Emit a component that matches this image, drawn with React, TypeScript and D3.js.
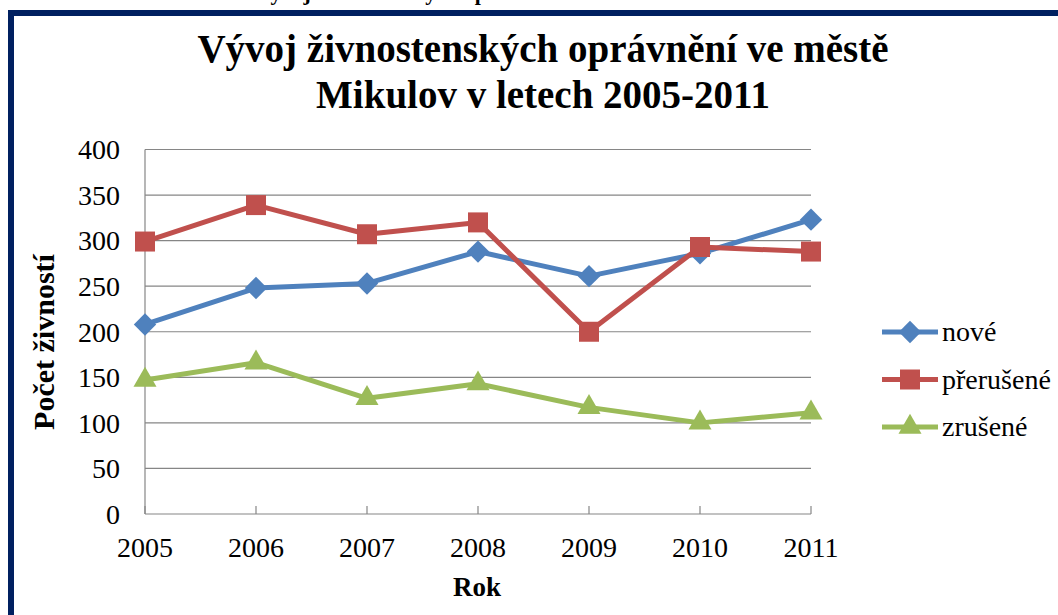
import * as d3 from 'd3'

const years = ['2005', '2006', '2007', '2008', '2009', '2010', '2011']
const nove = [208, 248, 253, 288, 261, 286, 323]
const prerusene = [299, 339, 307, 320, 200, 293, 288]
const zrusene = [147, 166, 127, 143, 117, 100, 111]
const yTicks = [0, 50, 100, 150, 200, 250, 300, 350, 400]
const seriesNames = ['nové', 'přerušené', 'zrušené']
const seriesColors = ['#4F81BD', '#C0504D', '#9BBB59']

const serif = '"Liberation Serif", "Times New Roman", serif'

export default function App() {
  const x = d3.scalePoint().domain(years).range([145, 811])
  const y = d3.scaleLinear().domain([0, 400]).range([514, 149.5])

  const line = d3.line<number>()
    .x((_, i) => x(years[i])!)
    .y(d => y(d))

  const symbols = [
    d3.symbol().type(d3.symbolSquare).size(250)(),
    d3.symbol().type(d3.symbolSquare).size(400)(),
    d3.symbol().type(d3.symbolTriangle).size(230)(),
  ]
  const rotations = [45, 0, 0]
  const all = [nove, prerusene, zrusene]

  const marker = (k: number, cx: number, cy: number, key: string) => (
    <path key={key} d={symbols[k]!}
      transform={`translate(${cx},${cy}) rotate(${rotations[k]})`}
      fill={seriesColors[k]} />
  )

  return (
    <>
      <style>{'body{margin:0}'}</style>
      <svg width={1058} height={615} style={{ display: 'block', background: '#fff' }}>
        {/* caption cut at top of the crop */}
        <text x={525} y={0} textAnchor="middle" fontFamily={serif} fontWeight="bold"
          fontSize={22}>Obrázek 5: Vývoj živnostenských oprávnění ve městě Mikulov v letech 2005-2011</text>

        {/* frame */}
        <rect x={11} y={13} width={1080} height={640} fill="none" stroke="#002060" strokeWidth={6} />

        {/* title */}
        <text x={543} y={62} textAnchor="middle" fontFamily={serif} fontWeight="bold" fontSize={39}>
          Vývoj živnostenských oprávnění ve městě
        </text>
        <text x={543} y={108} textAnchor="middle" fontFamily={serif} fontWeight="bold" fontSize={39}>
          Mikulov v letech 2005-2011
        </text>

        {/* gridlines + y labels */}
        {yTicks.map(t => (
          <g key={t}>
            {t > 0 && <line x1={145} x2={811} y1={y(t)} y2={y(t)} stroke="#868686" strokeWidth={1.2} />}
            <text x={120} y={y(t)} dy="0.35em" textAnchor="end" fontFamily={serif} fontSize={28}>{t}</text>
          </g>
        ))}

        {/* axes */}
        <line x1={145} x2={145} y1={149.5} y2={514} stroke="#868686" strokeWidth={1.2} />
        <line x1={145} x2={811} y1={514} y2={514} stroke="#868686" strokeWidth={1.2} />
        {years.map(yr => (
          <g key={yr}>
            <line x1={x(yr)} x2={x(yr)} y1={506} y2={514} stroke="#868686" strokeWidth={1.2} />
            <text x={x(yr)} y={557} textAnchor="middle" fontFamily={serif} fontSize={28}>{yr}</text>
          </g>
        ))}

        <text x={477} y={596} textAnchor="middle" fontFamily={serif} fontWeight="bold" fontSize={27}>Rok</text>
        <text transform="translate(54,342) rotate(-90)" textAnchor="middle" fontFamily={serif}
          fontWeight="bold" fontSize={30}>Počet živností</text>

        {/* series */}
        {all.map((vals, k) => (
          <g key={k}>
            <path d={line(vals)!} fill="none" stroke={seriesColors[k]} strokeWidth={5}
              strokeLinejoin="round" />
            {vals.map((v, i) => marker(k, x(years[i])!, y(v), `${k}-${i}`))}
          </g>
        ))}

        {/* legend */}
        {seriesNames.map((name, k) => {
          const ly = 332 + k * 47.5
          return (
            <g key={name}>
              <line x1={882} x2={938} y1={ly} y2={ly} stroke={seriesColors[k]} strokeWidth={5} />
              {marker(k, 910, ly, `leg-${k}`)}
              <text x={942} y={ly} dy="0.33em" fontFamily={serif} fontSize={28}>{name}</text>
            </g>
          )
        })}
      </svg>
    </>
  )
}
